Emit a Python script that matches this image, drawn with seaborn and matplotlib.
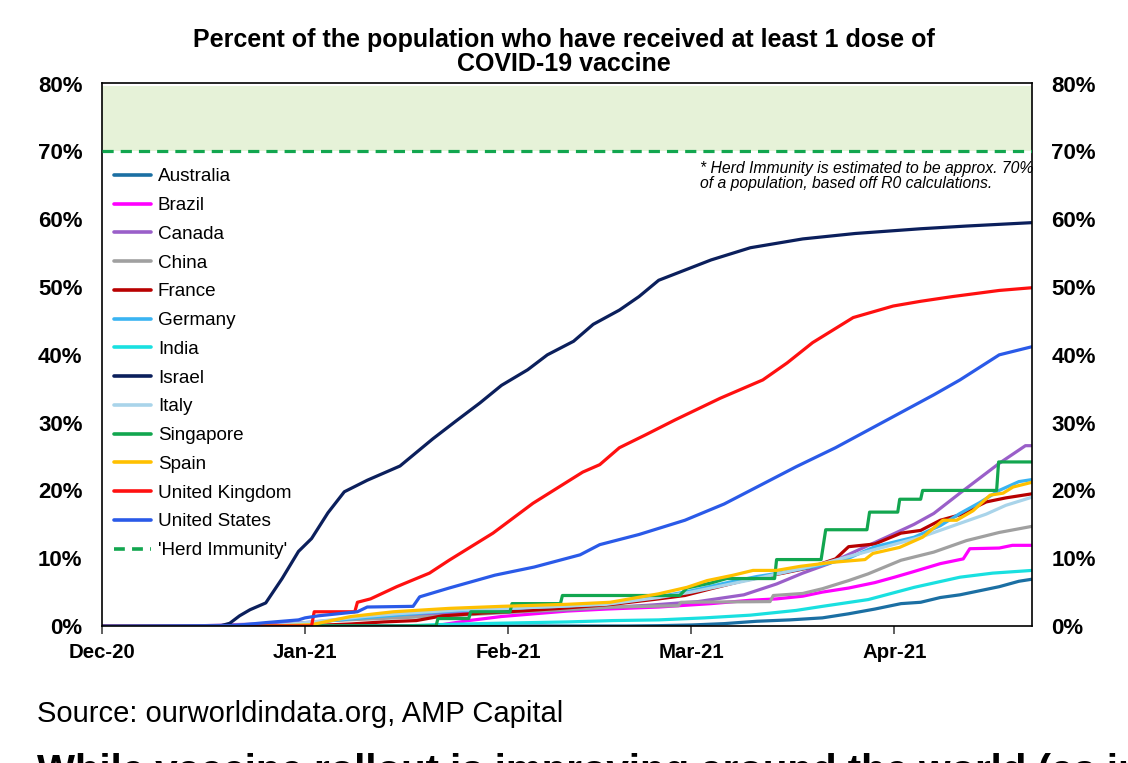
import matplotlib
matplotlib.use("Agg")
import matplotlib.pyplot as plt
import matplotlib.dates as mdates
from matplotlib.lines import Line2D
from matplotlib.ticker import FuncFormatter, MultipleLocator
import seaborn as sns
import pandas as pd
import numpy as np

# ---------------- data (days after 1 Dec 2020, % of population with >=1 dose) ----
START = pd.Timestamp("2020-12-01")

australia_days = [0, 80, 85, 90, 95, 100, 105, 110, 114, 118, 122, 125, 128, 131, 134, 137, 140, 142]
australia_vals = [0, 0.0, 0.05, 0.15, 0.35, 0.7, 0.9, 1.2, 1.8, 2.5, 3.3, 3.5, 4.2, 4.6, 5.2, 5.8, 6.6, 6.9]

brazil_days = [0, 50, 52, 56, 61, 66, 71, 77, 85, 93, 99, 103, 107, 110, 114, 118, 121, 123.5, 128, 131.5, 132.5, 137, 139, 142]
brazil_vals = [0, 0, 0.2, 0.8, 1.4, 1.8, 2.2, 2.5, 2.8, 3.3, 3.8, 4.0, 4.4, 5.0, 5.6, 6.4, 7.2, 7.9, 9.2, 9.9, 11.4, 11.5, 11.9, 11.9]

canada_days = [0, 14, 20, 31, 40, 50, 60, 70, 77, 84, 91, 98, 103, 107, 111, 115, 120, 124, 127, 131, 134, 137, 141, 142]
canada_vals = [0, 0, 0.2, 0.5, 1.2, 1.7, 2.0, 2.3, 2.7, 3.1, 3.6, 4.6, 6.2, 7.8, 9.2, 11.0, 13.2, 15.0, 16.6, 19.6, 21.8, 24.0, 26.6, 26.6]

china_days = [0, 30, 35, 45, 55, 62, 70, 78, 88, 88.4, 102, 102.5, 107, 110, 114, 117, 122, 127, 132, 137, 142]
china_vals = [0, 0, 0.8, 1.2, 1.6, 2.0, 2.4, 2.8, 3.0, 3.5, 3.6, 4.5, 4.8, 5.5, 6.7, 7.7, 9.7, 10.9, 12.6, 13.8, 14.7]

france_days = [0, 26, 33, 38, 43, 48, 52, 58, 62, 70, 78, 85, 89, 93, 98, 104, 108, 112, 114, 118, 122, 125, 128, 131, 135, 138, 142]
france_vals = [0, 0, 0.1, 0.3, 0.6, 0.8, 1.5, 1.9, 2.1, 2.6, 3.2, 4.0, 4.5, 5.5, 6.7, 7.8, 8.6, 9.9, 11.7, 12.1, 13.7, 14.1, 15.6, 16.4, 18.3, 18.9, 19.5]

germany_days = [0, 26, 30, 35, 40, 45, 50, 55, 62, 70, 77, 85, 90, 95, 100, 104, 110, 114, 118, 124, 128, 131, 134, 137, 140, 142]
germany_vals = [0, 0, 0.3, 0.8, 1.2, 1.6, 2.0, 2.3, 2.6, 2.9, 3.3, 4.3, 5.2, 6.3, 7.3, 7.9, 9.0, 10.0, 11.7, 13.1, 14.8, 16.6, 18.2, 20.0, 21.3, 21.6]

india_days = [0, 46, 51, 60, 71, 78, 85, 92, 99, 106, 110, 117, 124, 131, 136, 142]
india_vals = [0, 0, 0.2, 0.4, 0.6, 0.8, 0.9, 1.2, 1.6, 2.3, 2.9, 3.9, 5.7, 7.2, 7.8, 8.2]

israel_days = [0, 18, 19.5, 21, 22.6, 25, 27.5, 30, 32, 34.5, 37, 40.5, 45.5, 50.5, 54, 57.7, 61, 65, 68, 72, 75, 79, 82, 85, 89, 93, 99, 107, 115, 125, 132, 142]
israel_vals = [0, 0, 0.4, 1.5, 2.4, 3.4, 7.0, 11.0, 12.9, 16.7, 19.8, 21.5, 23.6, 27.6, 30.2, 32.9, 35.5, 37.8, 40.0, 42.0, 44.5, 46.6, 48.6, 51.0, 52.5, 54.0, 55.8, 57.1, 57.9, 58.6, 59.0, 59.5]

italy_days = [0, 26, 30, 35, 40, 45, 50, 55, 62, 70, 77, 85, 90, 95, 100, 105, 110, 115, 120, 125, 130, 135, 138, 142]
italy_vals = [0, 0, 0.4, 0.9, 1.4, 1.8, 2.1, 2.4, 2.6, 2.9, 3.2, 4.2, 5.0, 6.0, 7.0, 8.1, 9.2, 10.5, 11.8, 13.1, 14.8, 16.5, 17.8, 19.0]

singapore_days = [0, 51, 51.3, 56, 56.3, 62.3, 62.6, 70, 70.3, 88.2, 89.3, 92.8, 95.4, 102.7, 103, 109.8, 110.5, 116.8, 117.2, 121.5, 121.8, 125, 125.3, 136.6, 136.9, 142]
singapore_vals = [0, 0, 1.1, 1.1, 2.1, 2.1, 3.3, 3.3, 4.5, 4.5, 5.6, 6.3, 7.0, 7.0, 9.8, 9.8, 14.2, 14.2, 16.8, 16.8, 18.7, 18.7, 20.0, 20.0, 24.2, 24.2]

spain_days = [0, 26, 32, 38, 44.5, 53, 61, 71, 77.6, 85, 89.3, 92.4, 96.4, 99.4, 103, 106.6, 111.6, 116.5, 117.7, 121.8, 125.3, 128.4, 130.5, 133, 135.6, 137.6, 139.1, 142]
spain_vals = [0, 0, 0.2, 1.4, 2.1, 2.6, 2.9, 3.2, 3.5, 4.75, 5.7, 6.7, 7.5, 8.2, 8.2, 8.8, 9.4, 9.8, 10.7, 11.6, 13.1, 15.6, 15.6, 17.0, 19.3, 19.6, 20.5, 21.2]

uk_days = [0, 32, 32.4, 38.6, 39, 41, 45, 50, 53, 59.7, 65.8, 73.4, 76, 79, 83, 87.5, 94.4, 100.9, 104.6, 108.5, 114.7, 120.8, 125, 129.9, 137, 142]
uk_vals = [0, 0, 2.1, 2.1, 3.5, 4.0, 5.8, 7.8, 9.7, 13.7, 18.1, 22.7, 23.8, 26.3, 28.2, 30.4, 33.6, 36.3, 38.8, 41.8, 45.5, 47.2, 47.9, 48.6, 49.5, 49.9]

us_days = [0, 20, 25, 30, 31, 33, 39, 40.5, 47.5, 48.5, 53, 60, 66, 73, 76, 82, 89, 95, 101, 106, 112, 117, 122, 127, 131, 137, 142]
us_vals = [0, 0.05, 0.5, 0.9, 1.2, 1.5, 2.1, 2.8, 2.9, 4.3, 5.6, 7.5, 8.7, 10.5, 12.0, 13.5, 15.6, 18.0, 21.0, 23.5, 26.3, 28.9, 31.5, 34.1, 36.3, 40.0, 41.2]

countries = ["Australia", "Brazil", "Canada", "China", "France", "Germany", "India",
             "Israel", "Italy", "Singapore", "Spain", "United Kingdom", "United States"]
colors = ["#1b6fa3", "#ff00ff", "#9a5fc9", "#a0a0a0", "#b80000", "#3ab4f2", "#19e0e0",
          "#0b1f5c", "#a9d4ea", "#12a64f", "#ffc000", "#ff1010", "#2a5ae8"]
herd_level = 70
tick_months = ["2020-12-01", "2021-01-01", "2021-02-01", "2021-03-01", "2021-04-01"]

series = {
    "Australia": (australia_days, australia_vals),
    "Brazil": (brazil_days, brazil_vals),
    "Canada": (canada_days, canada_vals),
    "China": (china_days, china_vals),
    "France": (france_days, france_vals),
    "Germany": (germany_days, germany_vals),
    "India": (india_days, india_vals),
    "Israel": (israel_days, israel_vals),
    "Italy": (italy_days, italy_vals),
    "Singapore": (singapore_days, singapore_vals),
    "Spain": (spain_days, spain_vals),
    "United Kingdom": (uk_days, uk_vals),
    "United States": (us_days, us_vals),
}

rows = []
for c in countries:
    d, v = series[c]
    for di, vi in zip(d, v):
        rows.append({"date": START + pd.to_timedelta(di, unit="D"), "pct": vi, "country": c})
df = pd.DataFrame(rows)

# ---------------- plot ----------------
sns.set_theme(style="white")
plt.rcParams["font.family"] = ["Liberation Sans", "DejaVu Sans"]
plt.rcParams["text.color"] = "black"
plt.rcParams["xtick.color"] = "black"
plt.rcParams["ytick.color"] = "black"

fig = plt.figure(figsize=(11.28, 7.63), dpi=100)
ax = fig.add_axes([102 / 1128, 1 - 626 / 763, 930 / 1128, 543 / 763])

palette = dict(zip(countries, colors))
sns.lineplot(data=df, x="date", y="pct", hue="country", hue_order=countries,
             palette=palette, estimator=None, sort=True, linewidth=2.3, ax=ax, legend=False)

ax.set_xlim(START, START + pd.Timedelta(days=142))
ax.set_ylim(0, 80.1)

# herd immunity zone
ax.axhspan(herd_level, 79.6, color="#e6f2d8", zorder=0, lw=0)
ax.axhline(herd_level, color="#12a64f", lw=2.3, ls=(0, (3.5, 2.2)), zorder=3)

# axes styling
for s in ax.spines.values():
    s.set_color("black")
    s.set_linewidth(1.2)
ax.yaxis.set_major_locator(MultipleLocator(10))
ax.yaxis.set_major_formatter(FuncFormatter(lambda v, p: f"{v:.0f}%"))
ax.tick_params(axis="y", length=0, pad=14, labelsize=16)
ax.set_xticks(pd.to_datetime(tick_months))
ax.xaxis.set_major_formatter(mdates.DateFormatter("%b-%y"))
ax.tick_params(axis="x", length=6, width=1.2, direction="out", color="#444444",
               pad=6, labelsize=14.7, bottom=True)
for lab in ax.get_xticklabels() + ax.get_yticklabels():
    lab.set_fontweight("bold")
ax.set_xlabel("")
ax.set_ylabel("")

ax2 = ax.twinx()
ax2.set_ylim(ax.get_ylim())
ax2.yaxis.set_major_locator(MultipleLocator(10))
ax2.yaxis.set_major_formatter(FuncFormatter(lambda v, p: f"{v:.0f}%"))
ax2.tick_params(axis="y", length=0, pad=14, labelsize=16)
for lab in ax2.get_yticklabels():
    lab.set_fontweight("bold")
for s in ax2.spines.values():
    s.set_visible(False)

# legend
handles = [Line2D([0], [0], color=col, lw=2.6) for col in colors]
handles.append(Line2D([0], [0], color="#12a64f", lw=2.6, ls=(0, (3, 2))))
labels = countries + ["'Herd Immunity'"]
leg = ax.legend(handles, labels, loc="upper left", bbox_to_anchor=(-0.006, 0.876),
                frameon=False, fontsize=13.6, handlelength=1.95, handletextpad=0.35,
                labelspacing=0.61, borderaxespad=0.55)

# note
ax.text(0.643, 0.857, "* Herd Immunity is estimated to be approx. 70%\nof a population, based off R0 calculations.",
        transform=ax.transAxes, fontsize=11.3, style="italic", va="top", ha="left",
        linespacing=1.02)

# title
fig.text(0.5, 1 - 52 / 763, "Percent of the population who have received at least 1 dose of\nCOVID-19 vaccine",
         ha="center", va="center", fontsize=18, fontweight="bold", linespacing=1.02)

# source and truncated caption
fig.text(37 / 1128, 1 - 714 / 763, "Source: ourworldindata.org, AMP Capital",
         ha="left", va="center", fontsize=21)
fig.text(37 / 1128, 1 - 753 / 763, "While vaccine rollout is improving around the world (as in",
         ha="left", va="top", fontsize=29, fontweight="bold")

fig.savefig("out.png", dpi=100)
